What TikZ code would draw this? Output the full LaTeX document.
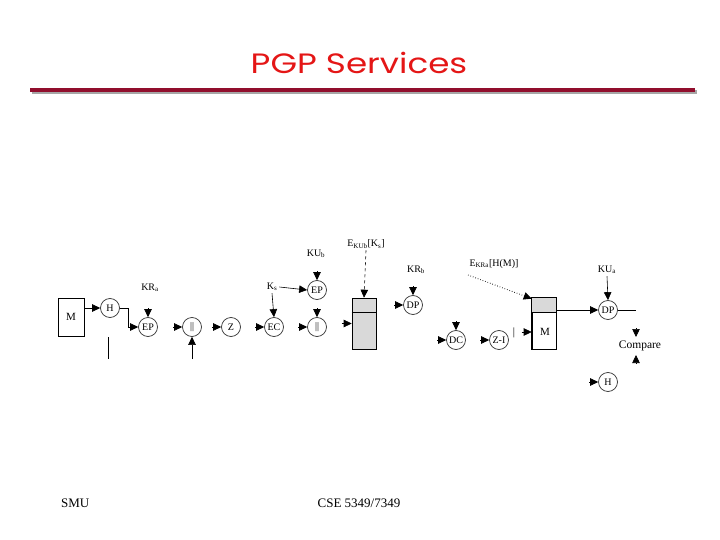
\documentclass[tikz,border=0pt]{standalone}
\usepackage{fontspec}
\setmainfont{Liberation Serif}
\newfontfamily\titlefont{Poppins}
\usetikzlibrary{arrows.meta}
\definecolor{titlered}{RGB}{228,22,22}
\definecolor{barred}{RGB}{145,14,45}
\begin{document}
\begin{tikzpicture}[x=1pt,y=-1pt,
  op/.style={circle, draw=black!80, line width=0.7pt, minimum size=19pt, inner sep=0pt, font=\fontsize{10}{10}\selectfont},
  lbl/.style={inner sep=0pt, font=\fontsize{10}{10}\selectfont},
  boxm/.style={draw, line width=0.6pt, inner sep=0pt},
  hd/.style={-{Triangle[length=8pt,width=7.5pt]}, line width=0.6pt},
  ln/.style={line width=0.6pt}]
\useasboundingbox (0,0) rectangle (720,540);
% title
\node[text=titlered, font=\titlefont\fontsize{28}{28}\selectfont, inner sep=0pt] (title) at (359,63) {\scalebox{1.22}[1]{PGP Services}};
\coordinate (bl) at (30,90);
\coordinate (br) at (695,90);
\draw[line width=4pt, black!35] ([shift={(2,2)}]bl) -- ([shift={(2,2)}]br);
\draw[line width=4pt, barred] (bl) -- (br);
% footer
\node[font=\fontsize{13}{13}\selectfont, anchor=west, inner sep=0pt] (smu) at (61,503) {SMU};
\node[font=\fontsize{13}{13}\selectfont, inner sep=0pt] (cse) at (359,503) {CSE 5349/7349};
% left part
\node[boxm, minimum width=26pt, minimum height=38pt, font=\fontsize{11}{11}\selectfont] (m) at (71,317) {M};
\node[op] (h) at (110,308) {H};
\node[op] (ep1) at (148,327) {EP};
\node[op] (c1) at (192,327) {||};
\node[op] (z) at (231,327) {Z};
\node[op] (ec) at (274,327) {EC};
\node[op] (c2) at (317,327) {||};
\node[op] (ep2) at (317,290) {EP};
\node[lbl] (kra) at (150,288) {KR$_{\mathrm a}$};
\node[lbl] (kub) at (316,254) {KU$_{\mathrm b}$};
\node[lbl] (ks) at (272,287) {K$_{\mathrm s}$};
\node[lbl] (ekub) at (366,244) {E$_{\mathrm{KUb}}$[K$_{\mathrm s}$]};
\draw[hd] (m.east |- h) -- (h);
\coordinate (hb) at (128,308);
\draw[ln] (h.east) -- (hb);
\draw[hd] (hb) |- (ep1.west);
\coordinate (hd1) at (108,337);
\coordinate (hd2) at (108,359);
\draw[ln] (hd1) -- (hd2);
\coordinate (cb) at (192,359);
\draw[hd] (cb) -- (c1.south);
\draw[hd] ([yshift=9pt]ep1.north) -- (ep1.north);
\draw[hd] ([xshift=-9pt]c1.west) -- (c1.west);
\draw[hd] ([xshift=-9pt]z.west) -- (z.west);
\draw[hd] ([xshift=-9pt]ec.west) -- (ec.west);
\draw[hd] ([xshift=-9pt]c2.west) -- (c2.west);
\draw[hd] ([yshift=9pt]c2.north) -- (c2.north);
\draw[hd] ([yshift=9pt]ep2.north) -- (ep2.north);
\draw[hd] ([xshift=2pt]ks.east) -- (ep2.west);
\draw[hd] ([yshift=-2pt]ks.south) -- (ec.north);
% middle box
\node[boxm, fill=black!15, minimum width=24pt, minimum height=51pt] (b1) at (364,323.5) {};
\draw[ln] ([yshift=-15pt]b1.north west) -- ([yshift=-15pt]b1.north east);
\draw[hd] ([xshift=-10pt]b1.west) -- (b1.west);
\draw[hd, dashed] ([yshift=-2pt]ekub.south) -- (b1.north);
% receiver side
\node[lbl] (krb) at (416,270) {KR$_{\mathrm b}$};
\node[op] (dp1) at (413,305) {DP};
\draw[hd] ([yshift=9pt]dp1.north) -- (dp1.north);
\draw[hd] ([xshift=-9pt]dp1.west) -- (dp1.west);
\node[op] (dc) at (456,340) {DC};
\draw[hd] ([yshift=9pt]dc.north) -- (dc.north);
\draw[hd] ([xshift=-9pt]dc.west) -- (dc.west);
\node[op] (zi) at (499,340) {Z-I};
\draw[hd] ([xshift=-9pt]zi.west) -- (zi.west);
\node[lbl, font=\fontsize{11}{11}\selectfont] (bar) at (514,333) {|};
\node[lbl] (ekra) at (494,264) {E$_{\mathrm{KRa}}$[H(M)]};
% right box
\node[boxm, minimum width=24pt, minimum height=51pt] (b2) at (544,323.5) {};
\fill[black!15] (b2.north west) rectangle ([yshift=-15pt]b2.north east);
\draw[ln] (b2.north west) rectangle (b2.south east);
\draw[line width=1.4pt] ([yshift=-15pt]b2.north west) -- ([yshift=-15pt]b2.north east);
\node[font=\fontsize{11}{11}\selectfont, inner sep=0pt] (m2) at (545,332) {M};
\draw[hd] ([xshift=-10pt]b2.west |- m2) -- (b2.west |- m2);
\coordinate (ek1) at (468,275);
\draw[hd, dotted, line width=0.9pt] (ek1) -- ([yshift=-1pt]b2.north west);
\node[lbl] (kua) at (607,270) {KU$_{\mathrm a}$};
\node[op] (dp2) at (608,310) {DP};
\draw[hd] (b2.east |- dp2) -- (dp2.west);
\draw[hd] ([yshift=-2pt]kua.south) -- (dp2.north);
\coordinate (dpr) at (636,310);
\draw[ln] (dp2.east) -- (dpr);
\node[lbl, font=\fontsize{11.5}{11.5}\selectfont] (cmp) at (640,346) {Compare};
\coordinate (cu) at (636,328);
\coordinate (cd) at (636,364);
\draw[hd] (cu) -- ([yshift=-9pt]cu);
\draw[hd] (cd) -- ([yshift=9pt]cd);
\node[op] (h2) at (608,382) {H};
\draw[hd] ([xshift=-9pt]h2.west) -- (h2.west);
\end{tikzpicture}
\end{document}
